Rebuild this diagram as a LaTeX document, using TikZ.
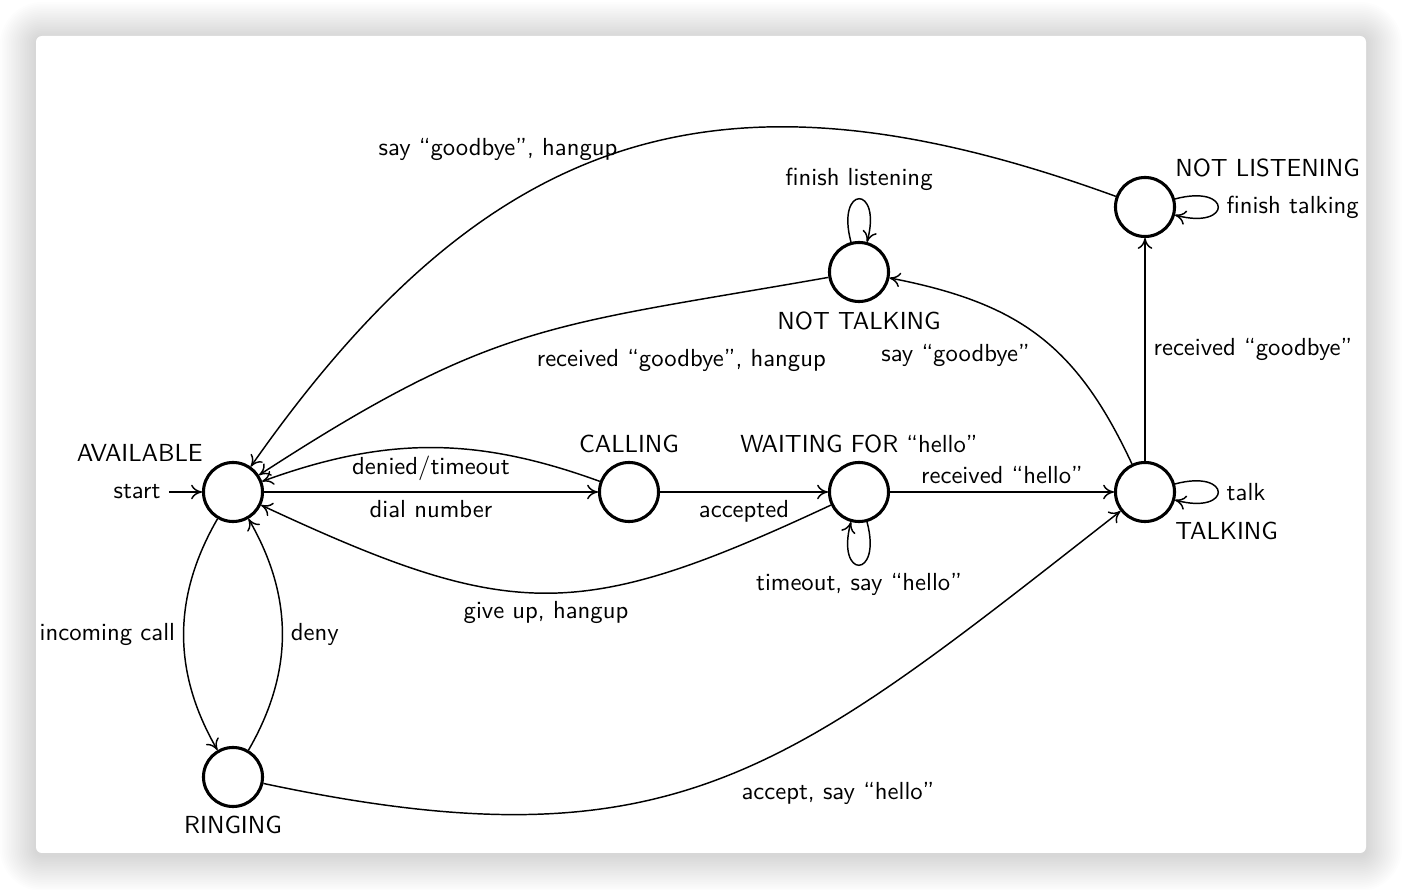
\documentclass[tikz,border=0pt]{standalone}
\usepackage{fontspec}
\usetikzlibrary{arrows.meta}
\begin{document}
\begin{tikzpicture}[x=0.4235pt,y=0.4235pt,
  every node/.style={font=\sffamily\fontsize{10.45pt}{12.5pt}\selectfont},
  statenode/.style={circle,draw,line width=1.3pt,minimum size=25pt,inner sep=0pt},
  edge/.style={line width=0.62pt,-{To[length=4.6pt,width=6.2pt]}},
  bigloop/.style={looseness=9.5}]
\useasboundingbox (0,0) rectangle (1402,890);
\fill[white] (0,0) rectangle (1402,890);
\foreach \i in {1,...,20}{
  \pgfmathsetmacro{\e}{\i*1.8}
  \pgfmathsetmacro{\rc}{(6+\e)*0.4235}
  \fill[black,opacity=0.0095,rounded corners=\rc pt] (36-\e,35-\e) rectangle (1366+\e,852+\e);
}
\fill[white,rounded corners=2.5pt] (36,37) rectangle (1366,854);

% states
\node[statenode,label=above left:AVAILABLE] (A) at (233,398) {};
\node[statenode,label=above:CALLING] (C) at (629,398) {};
\node[statenode,label={above:WAITING FOR “hello”}] (W) at (859,398) {};
\node[statenode,label=below right:TALKING] (T) at (1145,398) {};
\node[statenode,label=above right:NOT LISTENING] (NL) at (1145,683) {};
\node[statenode,label=below:NOT TALKING] (NT) at (859,618) {};
\node[statenode,label=below:RINGING] (R) at (233,113) {};
\node (st) at (137,398) {start};

% connectors
\draw[edge] (st) -- (A);
\draw[edge] (A) -- node[below]{dial number} (C);
\draw[edge] (C) to[bend right=20] node[below]{denied/timeout} (A);
\draw[edge] (C) -- node[below]{accepted} (W);
\draw[edge] (W) to[out=205,in=-25,looseness=1.25] node[below]{give up, hangup} (A);
\draw[edge] (W) to[loop below,bigloop] node[below]{timeout, say “hello”} (W);
\draw[edge] (W) -- node[above]{received “hello”} (T);
\draw[edge] (T) to[loop right,bigloop] node[right]{talk} (T);
\draw[edge] (T) -- node[right]{received “goodbye”} (NL);
\draw[edge] (NL) to[loop right,bigloop] node[right]{finish talking} (NL);
\draw[edge] (NL) to[out=160,in=55,looseness=1.18] node[pos=0.5,anchor=east]{say “goodbye”, hangup} (A);
\draw[edge] (T) to[out=115,in=-11,looseness=1.1] node[pos=0.5,anchor=north east]{say “goodbye”} (NT);
\draw[edge] (NT) to[loop above,bigloop] node[above]{finish listening} (NT);
\draw[edge] (NT) to[out=190,in=33,looseness=1.2] node[pos=0.5,anchor=north west,yshift=-1.5pt]{received “goodbye”, hangup} (A);
\draw[edge] (A) to[out=240,in=120] node[left]{incoming call} (R);
\draw[edge] (R) to[out=60,in=300] node[right]{deny} (A);
\draw[edge] (R) to[out=-12,in=218,looseness=1.2] node[pos=0.515,anchor=north west]{accept, say “hello”} (T);
\end{tikzpicture}
\end{document}
